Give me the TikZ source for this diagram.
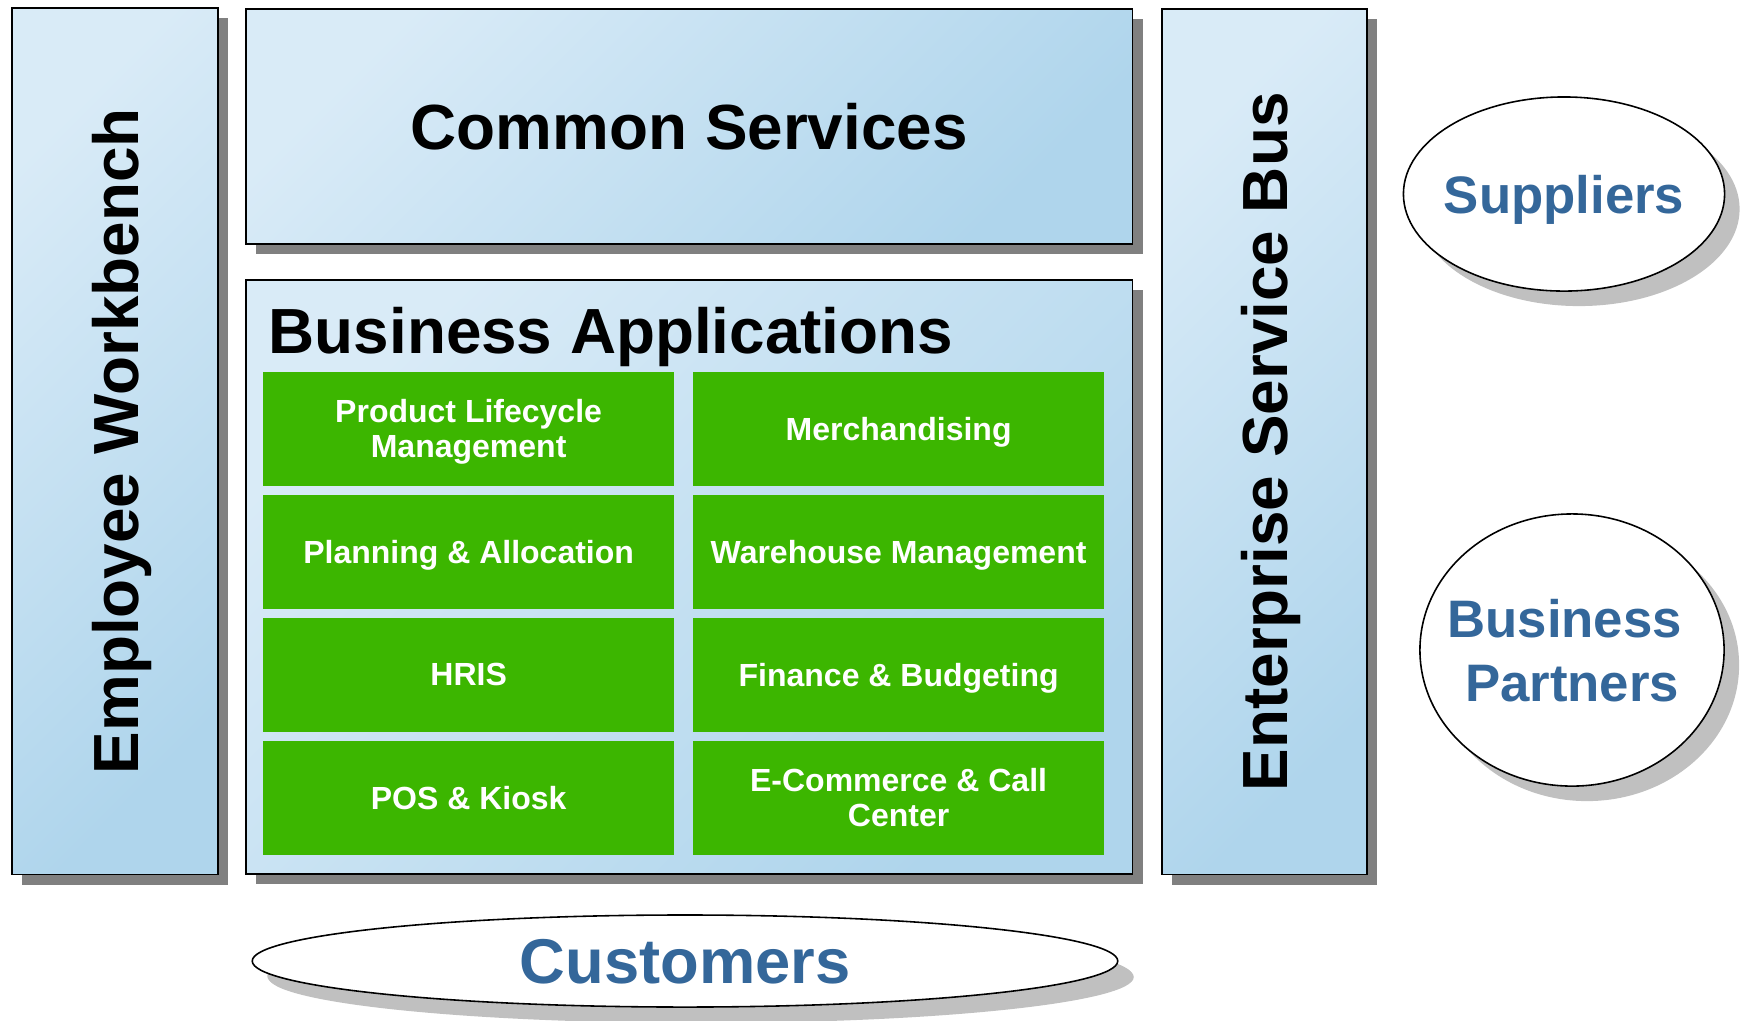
\documentclass[tikz,border=0pt]{standalone}
\usepackage{fontspec}
\setmainfont{Liberation Sans}
\usetikzlibrary{shapes.geometric,shadows}

\definecolor{paleblue}{RGB}{217,235,247}
\definecolor{deepblue}{RGB}{175,213,236}
\definecolor{appgreen}{RGB}{60,182,0}
\definecolor{partyblue}{RGB}{52,103,154}
\definecolor{boxshadow}{RGB}{128,128,128}
\definecolor{ovalshadow}{RGB}{192,192,192}

\begin{document}
\begin{tikzpicture}[x=0.01cm,y=-0.01cm,
  panel/.style={draw=black, line width=0.5pt, inner sep=0pt, outer sep=0pt,
    anchor=north west, left color=paleblue, right color=deepblue, shading angle=45,
    drop shadow={shadow xshift=0.1cm, shadow yshift=-0.1cm, fill=boxshadow, opacity=1}},
  tile/.style={fill=appgreen, inner sep=0pt, outer sep=0pt, anchor=north west,
    minimum width=4.11cm, minimum height=1.135cm},
  tiletext/.style={text=white, font=\bfseries\fontsize{9.1}{9.9}\selectfont, align=center,
    inner sep=0pt, text depth=0pt},
  headtext/.style={text=black, font=\bfseries\fontsize{18.15}{21.6}\selectfont,
    inner sep=0pt, text depth=0pt},
  party/.style={ellipse, draw=black, line width=0.45pt, fill=white, inner sep=0pt,
    drop shadow={shadow xshift=0.15cm, shadow yshift=-0.15cm, fill=ovalshadow, opacity=1}},
  partytext/.style={text=partyblue, align=center, inner sep=0pt, text depth=0pt}
]
\useasboundingbox (0,0) rectangle (1752,1020);

% layered panels
\node[panel, minimum width=2.06cm, minimum height=8.66cm] (workbench) at (12,8) {};
\node[panel, minimum width=8.86cm, minimum height=2.35cm] (common) at (246,9) {};
\node[panel, minimum width=8.86cm, minimum height=5.94cm] (apps) at (246,280) {};
\node[panel, minimum width=2.05cm, minimum height=8.65cm] (esb) at (1162,9) {};

\node[headtext, rotate=90] (workbench-label) at (workbench.center) {Employee Workbench};
\node[headtext] (common-label) at (common.center) {Common Services};
\node[headtext, anchor=base west] (apps-title) at (268,353) {Business Applications};
\node[headtext, rotate=90] (esb-label) at (esb.center) {Enterprise Service Bus};

% application tiles
\node[tile] (plm) at (263,372) {};
\node[tile] (merch) at (693,372) {};
\node[tile] (plan) at (263,495) {};
\node[tile] (wms) at (693,495) {};
\node[tile] (hris) at (263,618) {};
\node[tile] (fin) at (693,618) {};
\node[tile] (pos) at (263,741) {};
\node[tile] (ecom) at (693,741) {};

\node[tiletext] (plm-label) at (plm.center) {Product Lifecycle\\Management};
\node[tiletext] (merch-label) at (merch.center) {Merchandising};
\node[tiletext] (plan-label) at (plan.center) {Planning \& Allocation};
\node[tiletext] (wms-label) at (wms.center) {Warehouse Management};
\node[tiletext] (hris-label) at (hris.center) {HRIS};
\node[tiletext] (fin-label) at (fin.center) {Finance \& Budgeting};
\node[tiletext] (pos-label) at (pos.center) {POS \& Kiosk};
\node[tiletext] (ecom-label) at (ecom.center) {E-Commerce \& Call\\Center};

% external parties
\node[party, minimum width=3.21cm, minimum height=1.94cm] (suppliers) at (1564,194) {};
\node[party, minimum width=3.04cm, minimum height=2.72cm] (partners) at (1572,650) {};
\node[party, minimum width=8.65cm, minimum height=0.92cm,
  drop shadow={shadow xshift=0.16cm, shadow yshift=-0.16cm, fill=ovalshadow, opacity=1}] (customers) at (685,961) {};

\node[partytext, font=\bfseries\fontsize{15}{18.2}\selectfont] (suppliers-label) at (suppliers.center) {Suppliers};
\node[partytext, font=\bfseries\fontsize{15}{18.2}\selectfont] (partners-label) at (partners.center) {Business\hspace*{0.278em}\\Partners};
\node[partytext, font=\bfseries\fontsize{18}{21.6}\selectfont] (customers-label) at (customers.center) {Customers};
\end{tikzpicture}
\end{document}
